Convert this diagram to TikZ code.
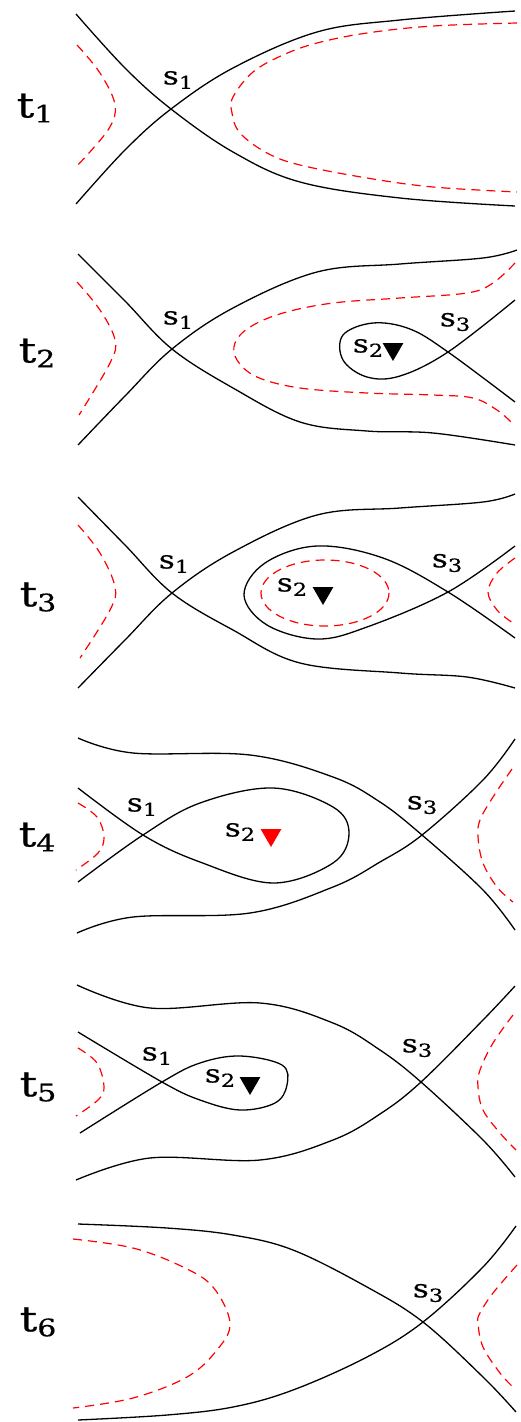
\documentclass[tikz,border=0pt]{standalone}
\usepackage{fontspec}
\newfontfamily\labfont[FakeStretch=1.25, FakeBold=0.6]{DejaVu Serif}
\usetikzlibrary{shapes.geometric}
\tikzset{
  curve/.style={black, line width=1.3pt, line join=round},
  sep/.style={red, line width=1.2pt, dash pattern=on 9pt off 6pt},
  slab/.style={inner sep=0pt},
  tlab/.style={inner sep=0pt},
  tri/.style={regular polygon, regular polygon sides=3, shape border rotate=180, fill=black, minimum size=24pt, inner sep=0pt},
}
\newcommand{\slbl}[1]{{\labfont\fontsize{25}{25}\selectfont s\raisebox{-4.5pt}{\fontsize{18}{18}\selectfont #1}}}
\newcommand{\tlbl}[1]{{\labfont\fontsize{35}{35}\selectfont t\raisebox{-5pt}{\fontsize{24}{24}\selectfont #1}}}
\begin{document}
\begin{tikzpicture}[x=1pt,y=-1pt]
\useasboundingbox (0,0) rectangle (521,1422);
% ---------- panel 1
\draw[curve] plot[smooth, tension=0.6] coordinates{(76,14) (125,68) (171,109) (233,152) (300,182) (400,198) (515,206)};
\draw[curve] plot[smooth, tension=0.6] coordinates{(76,204) (125,150) (171,109) (233,68) (317,32) (400,20) (515,11)};
\draw[sep] plot[smooth, tension=0.6] coordinates{(77,45) (100,73) (115,105) (108,130) (76,167)};
\draw[sep] plot[smooth, tension=0.6] coordinates{(517,23) (433,26) (367,33) (317,43) (283,55) (253,72) (233,97) (232,113) (240,133) (267,153) (300,165) (367,178) (433,187) (517,192)};
\node[slab] (s11) at (178,80) {\slbl{1}};
\node[tlab] (t1) at (35,108) {\tlbl{1}};
% ---------- panel 2
\draw[curve] plot[smooth, tension=0.6] coordinates{(78,254) (125,301) (172,349) (233,388) (300,422) (367,431) (433,433) (515,445)};
\draw[curve] plot[smooth, tension=0.6] coordinates{(78,445) (125,396) (172,349) (233,308) (317,272) (400,264) (483,258) (517,250)};
\draw[curve] plot[smooth, tension=0.6] coordinates{(515,300) (448,352) (400,376) (367,377) (343,360) (343,335) (373,323) (410,329) (448,352) (515,402)};
\draw[sep] plot[smooth, tension=0.6] coordinates{(77,282) (100,310) (115,340) (110,363) (79,415)};
\draw[sep] plot[smooth, tension=0.6] coordinates{(515,263) (493,283) (467,293) (400,298) (333,303) (283,313) (250,327) (235,343) (237,360) (257,377) (300,388) (367,393) (433,395) (473,398) (497,410) (512,423)};
\node[slab] (s21) at (178,320) {\slbl{1}};
\node[slab] (s22) at (368,348) {\slbl{2}};
\node[tri] (tr2) at (393,349) {};
\node[slab] (s23) at (455,322) {\slbl{3}};
\node[tlab] (t2) at (37,353) {\tlbl{2}};
% ---------- panel 3
\draw[curve] plot[smooth, tension=0.6] coordinates{(78,497) (125,545) (172,593) (233,630) (300,663) (400,673) (467,677) (515,688)};
\draw[curve] plot[smooth, tension=0.6] coordinates{(78,688) (125,640) (172,593) (233,552) (317,515) (400,508) (483,502) (515,494)};
\draw[curve] plot[smooth, tension=0.6] coordinates{(515,546) (448,592) (367,627) (317,639) (267,625) (244,595) (265,563) (317,546) (383,558) (448,592) (515,638)};
\draw[sep] (325,593) ellipse [x radius=64, y radius=33];
\draw[sep] plot[smooth, tension=0.6] coordinates{(78,525) (100,553) (115,587) (110,610) (80,658)};
\draw[sep] plot[smooth, tension=0.6] coordinates{(515,558) (497,573) (488,592) (497,610) (513,623)};
\node[slab] (s31) at (174,564) {\slbl{1}};
\node[slab] (s32) at (292,587) {\slbl{2}};
\node[tri] (tr3) at (323,593) {};
\node[slab] (s33) at (447,563) {\slbl{3}};
\node[tlab] (t3) at (38,597) {\tlbl{3}};
% ---------- panel 4
\draw[curve] plot[smooth, tension=0.6] coordinates{(78,738) (133,753) (250,755) (333,777) (380,802) (422,835) (483,890) (515,930)};
\draw[curve] plot[smooth, tension=0.6] coordinates{(77,933) (133,917) (250,913) (333,887) (380,862) (422,835) (483,780) (515,739)};
\draw[curve] plot[smooth, tension=0.6] coordinates{(78,788) (143,835) (200,862) (273,883) (333,863) (349,833) (333,807) (273,788) (200,803) (143,835) (78,882)};
\draw[sep] plot[smooth, tension=0.6] coordinates{(78,803) (97,817) (104,837) (98,853) (76,870)};
\draw[sep] plot[smooth, tension=0.6] coordinates{(512,769) (493,797) (480,820) (478,837) (483,863) (497,887) (513,902)};
\node[slab] (s41) at (142,807) {\slbl{1}};
\node[slab] (s42) at (240,832) {\slbl{2}};
\node[tri, fill=red] (tr4) at (271,835) {};
\node[slab] (s43) at (422,805) {\slbl{3}};
\node[tlab] (t4) at (37,837) {\tlbl{4}};
% ---------- panel 5
\draw[curve] plot[smooth, tension=0.6] coordinates{(77,985) (150,1008) (260,1003) (333,1023) (380,1050) (421,1082) (483,1140) (515,1177)};
\draw[curve] plot[smooth, tension=0.6] coordinates{(76,1180) (150,1158) (260,1160) (333,1140) (380,1114) (421,1082) (483,1020) (515,986)};
\draw[curve] plot[smooth, tension=0.6] coordinates{(78,1032) (162,1082) (200,1100) (240,1110) (275,1103) (287,1085) (282,1065) (240,1056) (200,1063) (162,1082) (80,1133)};
\draw[sep] plot[smooth, tension=0.6] coordinates{(78,1048) (97,1063) (104,1087) (98,1100) (76,1116)};
\draw[sep] plot[smooth, tension=0.6] coordinates{(513,1015) (493,1043) (480,1070) (478,1087) (483,1110) (500,1133) (516,1150)};
\node[slab] (s51) at (157,1056) {\slbl{1}};
\node[slab] (s52) at (220,1078) {\slbl{2}};
\node[tri] (tr5) at (250,1083) {};
\node[slab] (s53) at (417,1048) {\slbl{3}};
\node[tlab] (t5) at (38,1087) {\tlbl{5}};
% ---------- panel 6
\draw[curve] plot[smooth, tension=0.6] coordinates{(78,1224) (167,1228) (233,1235) (293,1250) (367,1287) (423,1322) (483,1377) (516,1412)};
\draw[curve] plot[smooth, tension=0.6] coordinates{(78,1420) (167,1415) (233,1407) (293,1390) (367,1357) (423,1322) (483,1267) (516,1226)};
\draw[sep] plot[smooth, tension=0.6] coordinates{(73,1239) (133,1248) (183,1267) (213,1287) (230,1323) (217,1350) (187,1377) (133,1398) (73,1408)};
\draw[sep] plot[smooth, tension=0.6] coordinates{(517,1265) (493,1293) (480,1313) (478,1323) (483,1347) (500,1373) (513,1387)};
\node[slab] (s63) at (428,1293) {\slbl{3}};
\node[tlab] (t6) at (38,1322) {\tlbl{6}};
\end{tikzpicture}
\end{document}
